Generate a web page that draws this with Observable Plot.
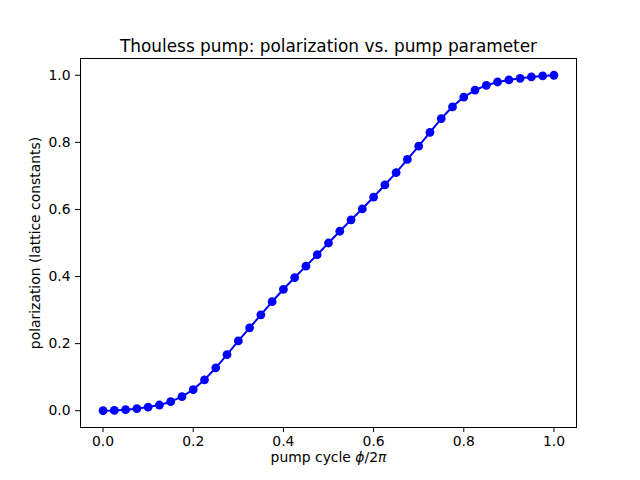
<!DOCTYPE html>
<html>
<head>
<meta charset="utf-8">
<script src="https://cdn.jsdelivr.net/npm/d3@7"></script>
<script src="https://cdn.jsdelivr.net/npm/@observablehq/plot@0.6"></script>
<style>
  html, body { margin: 0; padding: 0; background: #fff; }
  #chart svg { display: block; font-family: "DejaVu Sans", sans-serif; }
</style>
</head>
<body>
<div id="chart"></div>
<script>
const titleText = "Thouless pump: polarization vs. pump parameter";
const xLabel = "pump cycle ϕ/2π";
const yLabel = "polarization (lattice constants)";
const xTicks = [0.0, 0.2, 0.4, 0.6, 0.8, 1.0];
const yTicks = [0.0, 0.2, 0.4, 0.6, 0.8, 1.0];

const phi = [0.000, 0.025, 0.050, 0.075, 0.100, 0.125, 0.150, 0.175, 0.200, 0.225,
             0.250, 0.275, 0.300, 0.325, 0.350, 0.375, 0.400, 0.425, 0.450, 0.475,
             0.500, 0.525, 0.550, 0.575, 0.600, 0.625, 0.650, 0.675, 0.700, 0.725,
             0.750, 0.775, 0.800, 0.825, 0.850, 0.875, 0.900, 0.925, 0.950, 0.975, 1.000];
const polarization = [0.000, 0.001, 0.003, 0.006, 0.011, 0.017, 0.027, 0.042, 0.063, 0.092,
                      0.128, 0.167, 0.208, 0.247, 0.286, 0.325, 0.362, 0.397, 0.431, 0.465,
                      0.500, 0.535, 0.569, 0.602, 0.637, 0.673, 0.710, 0.749, 0.789, 0.830,
                      0.871, 0.906, 0.935, 0.956, 0.970, 0.980, 0.986, 0.991, 0.995, 0.998, 1.000];

const data = phi.map((x, i) => ({x, y: polarization[i]}));

const fs = "13.9px";
const plot = Plot.plot({
  width: 640,
  height: 480,
  marginLeft: 80,
  marginRight: 64,
  marginTop: 58,
  marginBottom: 53,
  style: {fontFamily: "DejaVu Sans, sans-serif", fontSize: fs, color: "black", background: "white"},
  x: {domain: [-0.05, 1.05]},
  y: {domain: [-0.05, 1.05]},
  marks: [
    Plot.frame({stroke: "black", strokeWidth: 1}),
    Plot.axisX({ticks: xTicks, tickFormat: d3.format(".1f"), tickSize: 5, tickPadding: 4,
                fontSize: fs, label: null, stroke: "black"}),
    Plot.axisY({ticks: yTicks, tickFormat: d3.format(".1f"), tickSize: 5, tickPadding: 5,
                fontSize: fs, label: null, stroke: "black"}),
    Plot.line(data, {x: "x", y: "y", stroke: "#0000ff", strokeWidth: 2}),
    Plot.dot(data, {x: "x", y: "y", fill: "#0000ff", r: 4.4, stroke: null}),
    Plot.text([titleText], {frameAnchor: "top", dy: -19, text: d => d, fontSize: "16.9px", fill: "black"}),
    Plot.text([xLabel], {frameAnchor: "bottom", dy: 34, text: d => d, fontSize: fs, fill: "black", className: "xlabel"}),
    Plot.text([yLabel], {frameAnchor: "left", dx: -45, rotate: -90, textAnchor: "middle", text: d => d, fontSize: fs, fill: "black"})
  ]
});

// italicize the math symbols in the x label
const xl = d3.select(plot).select('g.xlabel text');
if (!xl.empty()) {
  xl.text(null);
  xl.append("tspan").text("pump cycle ");
  xl.append("tspan").attr("font-style", "italic").text("ϕ");
  xl.append("tspan").text("/2");
  xl.append("tspan").attr("font-style", "italic").text("π");
}

document.getElementById("chart").appendChild(plot);
</script>
</body>
</html>
